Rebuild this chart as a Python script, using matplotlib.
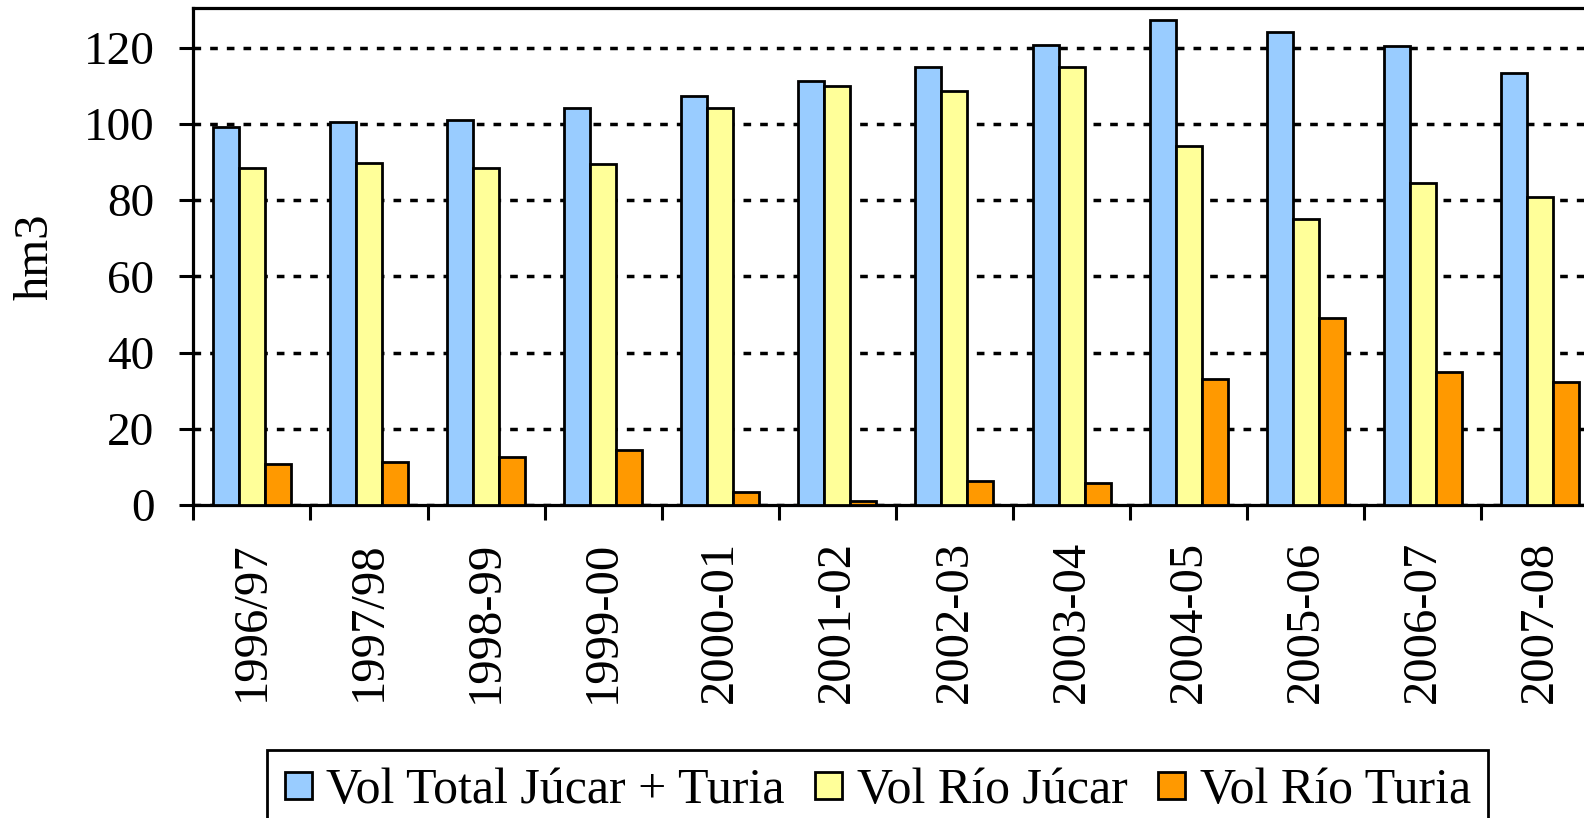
import numpy as np
import matplotlib
matplotlib.use('Agg')
import matplotlib.pyplot as plt

plt.rcParams['font.family'] = ['Liberation Serif', 'DejaVu Serif']

# campañas y volúmenes (hm3)
campanas = ['1996/97', '1997/98', '1998-99', '1999-00', '2000-01', '2001-02',
            '2002-03', '2003-04', '2004-05', '2005-06', '2006-07', '2007-08']
vol_total = [99.2, 100.4, 101.0, 104.2, 107.2, 111.2, 115.0, 120.8, 127.2, 124.1, 120.3, 113.3]
vol_jucar = [88.4, 89.7, 88.3, 89.5, 104.2, 109.9, 108.7, 115.0, 94.2, 75.1, 84.6, 80.8]
vol_turia = [10.8, 11.3, 12.5, 14.3, 3.5, 1.1, 6.2, 5.7, 33.1, 49.0, 35.0, 32.4]
series = ['Vol Total Júcar + Turia', 'Vol Río Júcar', 'Vol Río Turia']
colores = ['#99CCFF', '#FFFF99', '#FF9900']
yticks = [0, 20, 40, 60, 80, 100, 120]

W, H = 1584, 818
fig = plt.figure(figsize=(W / 100, H / 100), dpi=100)
# the plot area runs past the right edge, like the cropped original
ax = fig.add_axes([193.3 / W, 1 - 505 / H, 1405.2 / W, 497 / H])

x = np.arange(len(campanas)) + 0.5
w = 0.222
bars = []
for k, (vals, col) in enumerate(zip([vol_total, vol_jucar, vol_turia], colores)):
    b = ax.bar(x + (k - 1) * w, vals, width=w, color=col, edgecolor='black',
               linewidth=2.0, zorder=3)
    bars.append(b)

ax.set_xlim(0, len(campanas))
ax.set_ylim(0, 130.4)

ax.set_yticks(yticks)
ax.set_yticklabels([str(v) for v in yticks])
ax.tick_params(axis='y', length=10, width=2.2, pad=18, labelsize=34, direction='out')

# major ticks on category borders, labels on minor ticks at the centres
ax.set_xticks(np.arange(len(campanas) + 1))
ax.set_xticklabels([])
ax.set_xticks(x, minor=True)
ax.set_xticklabels(campanas, minor=True, rotation=90, fontsize=35)
ax.tick_params(axis='x', which='major', length=11, width=2.2, direction='out')
ax.tick_params(axis='x', which='minor', length=0, pad=26)

ax.yaxis.grid(True, color='black', linestyle=(0, (2.2, 2.6)), linewidth=2.5)
ax.set_axisbelow(True)

for s in ['left', 'top', 'bottom']:
    ax.spines[s].set_linewidth(2.3)
ax.spines['right'].set_visible(False)

fig.text(35 / W, 1 - 257 / H, 'hm3', rotation=90, ha='center', va='center', fontsize=35)

leg = fig.legend(bars, series, loc='upper left', bbox_to_anchor=(267 / W, 1 - 750 / H),
                 ncol=3, fontsize=36, frameon=True, fancybox=False, edgecolor='black',
                 framealpha=1, handlelength=0.54, handleheight=0.46, handletextpad=0.3,
                 columnspacing=0.6, borderpad=0.35, borderaxespad=0)
leg.get_frame().set_linewidth(2)
for p in leg.get_patches():
    p.set_linewidth(2.0)

fig.savefig('out.png', dpi=100)
